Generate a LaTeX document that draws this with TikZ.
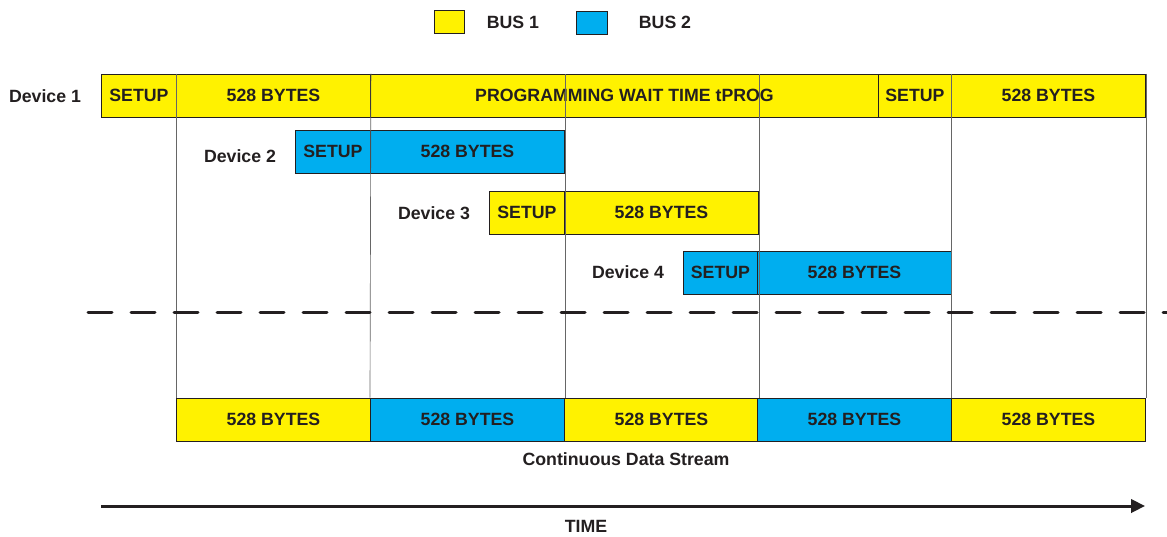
\documentclass[tikz,border=0pt]{standalone}
\usepackage{fontspec}
\setmainfont{Liberation Sans}
\usetikzlibrary{arrows.meta}
\definecolor{busyellow}{HTML}{FFF200}
\definecolor{busblue}{HTML}{00AEEF}
\definecolor{ink}{HTML}{231F20}
\tikzset{
  txt/.style={text=ink, font=\bfseries\fontsize{13.3}{15}\selectfont},
  slot/.style={txt, draw=ink, line width=0.7pt, minimum height=32.25pt, inner sep=0pt, anchor=west},
  busA/.style={slot, fill=busyellow},
  busB/.style={slot, fill=busblue},
  key/.style={draw=ink, line width=0.7pt, minimum width=23pt, minimum height=17.25pt, inner sep=0pt},
  grid/.style={draw=black!60, line width=0.5pt},
}
\begin{document}
\begin{tikzpicture}[x=0.75pt,y=-0.75pt]
\useasboundingbox (0,0) rectangle (1167,536);

% legend
\node[key, fill=busyellow] (keyA) at (449.5,21.5) {};
\node[txt] (keyAtxt) at (513,22) {BUS 1};
\node[key, fill=busblue] (keyB) at (592,22.5) {};
\node[txt] (keyBtxt) at (665,22) {BUS 2};

% device 1
\node[txt] (dev1) at (45,96) {Device 1};
\node[busA, minimum width=56.25pt] (d1setup) at (101,95.5) {SETUP};
\node[busA, minimum width=145.5pt] (d1data) at (176,95.5) {528 BYTES};
\node[busA, minimum width=381pt] (d1prog) at (370,95.5) {PROGRAMMING WAIT TIME tPROG};
\node[busA, minimum width=54.75pt] (d1setup2) at (878,95.5) {SETUP};
\node[busA, minimum width=145.5pt] (d1data2) at (951,95.5) {528 BYTES};

% device 2
\node[txt] (dev2) at (240,156) {Device 2};
\node[busB, minimum width=56.25pt] (d2setup) at (295,151.5) {SETUP};
\node[busB, minimum width=145.5pt] (d2data) at (370,151.5) {528 BYTES};

% device 3
\node[txt] (dev3) at (434,213) {Device 3};
\node[busA, minimum width=56.25pt] (d3setup) at (489,212.5) {SETUP};
\node[busA, minimum width=145.5pt] (d3data) at (564,212.5) {528 BYTES};

% device 4
\node[txt] (dev4) at (628,272) {Device 4};
\node[busB, minimum width=55.5pt] (d4setup) at (683,272.5) {SETUP};
\node[busB, minimum width=145.5pt] (d4data) at (757,272.5) {528 BYTES};

% data stream
\node[busA, minimum width=145.5pt] (s1) at (176,419.5) {528 BYTES};
\node[busB, minimum width=145.5pt] (s2) at (370,419.5) {528 BYTES};
\node[busA, minimum width=145.5pt] (s3) at (564,419.5) {528 BYTES};
\node[busB, minimum width=145.5pt] (s4) at (757,419.5) {528 BYTES};
\node[busA, minimum width=145.5pt] (s5) at (951,419.5) {528 BYTES};
\node[txt] (stream) at (626,459) {Continuous Data Stream};

% time lines
\draw[grid] (d1data.north west) -- (s1.north west);
\draw[grid] (d1data.north east) -- (s2.north west);
\draw[grid] (s2.north east) -- (s2.north east |- d1prog.north);
\draw[grid] (s3.north east) -- (s3.north east |- d1prog.north);
\draw[grid] (d1data2.north west) -- (s5.north west);
\draw[grid] (d1data2.north east) -- (s5.north east);

% separator
\coordinate (sepL) at (88,312);
\coordinate (sepR) at (1167,312);
\draw[ink, line width=2.25pt, line cap=round, dash pattern=on 18pt off 14.25pt] (sepL) -- (sepR);

% time axis
\coordinate (tL) at (101,506);
\coordinate (tR) at (1145,506);
\draw[ink, line width=2.25pt, -{Triangle[length=10.5pt,width=10pt]}] (tL) -- (tR);
\node[txt] (time) at (586,526) {TIME};
\end{tikzpicture}
\end{document}
